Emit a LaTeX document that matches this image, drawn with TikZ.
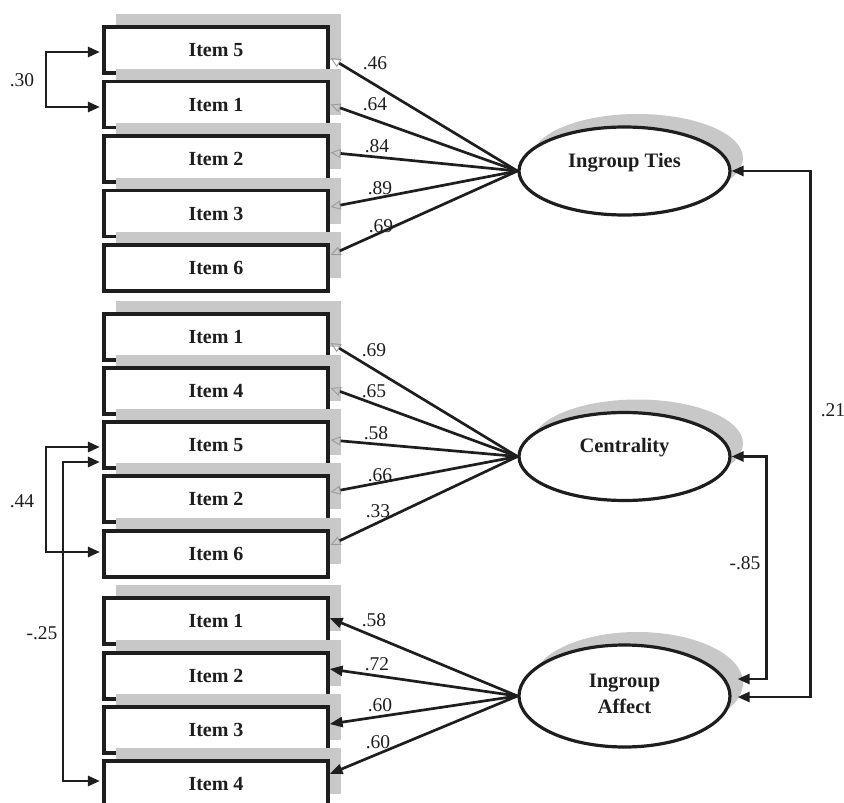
\documentclass[tikz,border=0pt]{standalone}
\usepackage{fontspec}
\setmainfont{Liberation Serif}
\usetikzlibrary{arrows.meta,calc,shapes.geometric}
\definecolor{shd}{HTML}{C8C8C8}
\definecolor{ink}{HTML}{1E1E1E}
\definecolor{tipgray}{HTML}{9A9A9A}
\begin{document}
\begin{tikzpicture}[x=1pt,y=-1pt,
  itembox/.style={draw=ink,line width=3.2pt,fill=white,minimum width=224pt,minimum height=46pt,inner sep=0pt,text=ink,font=\fontsize{20}{22}\selectfont\bfseries},
  latent/.style={ellipse,draw=ink,line width=3.2pt,fill=white,minimum width=211pt,inner sep=0pt},
  lattext/.style={inner sep=0pt,text=ink,align=center,font=\fontsize{20.5}{26}\selectfont\bfseries},
  num/.style={inner sep=0pt,text=ink,font=\fontsize{19.5}{22}\selectfont},
  loadg/.style={draw=ink,line width=2.7pt,-{Triangle[open,length=10pt,width=9pt,line width=0.9pt,color=tipgray]}},
  loadb/.style={draw=ink,line width=2.7pt,-{Triangle[length=13pt,width=10pt]}},
  cov/.style={draw=ink,line width=2.7pt,{Triangle[length=12pt,width=10pt]}-{Triangle[length=12pt,width=10pt]}}
]
\useasboundingbox (0,0) rectangle (844,803);

% indicator boxes with shadows
\foreach \nm/\cy/\tx in {t5/50/Item 5,t1/104.5/Item 1,t2/159/Item 2,t3/213.5/Item 3,t6/268/Item 6,
  c1/337/Item 1,c4/391/Item 4,c5/445/Item 5,c2/499/Item 2,c6/554/Item 6,
  f1/621/Item 1,f2/676/Item 2,f3/730/Item 3,f4/784/Item 4}{
  \fill[shd] (116,\cy-36) rectangle (341,\cy+10);
  \node[itembox] (\nm) at (216,\cy) {\tx};
}

% latent variables with shadows
\fill[shd] (637.5,158) ellipse [x radius=105.5pt, y radius=44pt];
\node[latent,minimum height=88pt] (ties) at (624.5,171) {};
\node[lattext] (tiesT) at (624.5,163) {Ingroup Ties};

\fill[shd] (637.5,443.5) ellipse [x radius=105.5pt, y radius=44pt];
\node[latent,minimum height=88pt] (cent) at (624.5,456.5) {};
\node[lattext] (centT) at (624.5,448) {Centrality};

\fill[shd] (637.5,683) ellipse [x radius=105.5pt, y radius=51pt];
\node[latent,minimum height=102pt] (aff) at (624.5,696) {};
\node[lattext] (affT) at (624.5,694) {Ingroup\\Affect};

% loadings
\foreach \nm/\dy in {t5/8,t1/0,t2/-6.5,t3/-6.5,t6/-13}
  \draw[loadg] (ties.west) -- ($(\nm.east)+(1,\dy)$);
\foreach \nm/\dy in {c1/6,c4/-3,c5/-5,c2/-7,c6/-9}
  \draw[loadg] (cent.west) -- ($(\nm.east)+(1,\dy)$);
\foreach \nm/\dy in {f1/-3,f2/-7,f3/-6,f4/-10}
  \draw[loadb] (aff.west) -- ($(\nm.east)+(0,\dy)$);

% loading labels
\foreach \nm/\x/\y/\t in {a/375/63.5/.46,b/375/104/.64,c/377/146/.84,d/380/188/.89,e/381/226/.69,
  f/374/350/.69,g/374/391/.65,h/376/433/.58,i/380/475/.66,j/378/511/.33,
  k/374/620/.58,l/377/664/.72,m/380/705/.60,n/378/742/.60}
  \node[num] (lab\nm) at (\x,\y) {\t};

% covariances among latents
\draw[cov] (ties.east) -- ++(79,0) |- ($(aff.east)+(6,1)$);
\draw[cov] (cent.east) -- ++(35,0) |- ($(aff.east)+(6,-17)$);
\node[num] (r21) at (833,410) {.21};
\node[num] (r85) at (745,563) {-.85};

% error covariances
\draw[cov] ($(t5.west)+(-2.5,2)$) -| (46,80) |- ($(t1.west)+(-2.5,2.5)$);
\node[num] (e30) at (22,80) {.30};
\draw[cov] ($(c5.west)+(-2.5,2)$) -| (46,500) |- ($(c6.west)+(-2.5,-2)$);
\node[num] (e44) at (22,501) {.44};
\draw[cov] ($(c5.west)+(-2.5,17)$) -| (63,620) |- ($(f4.west)+(-2.5,-3)$);
\node[num] (e25) at (42,633) {-.25};
\end{tikzpicture}
\end{document}
